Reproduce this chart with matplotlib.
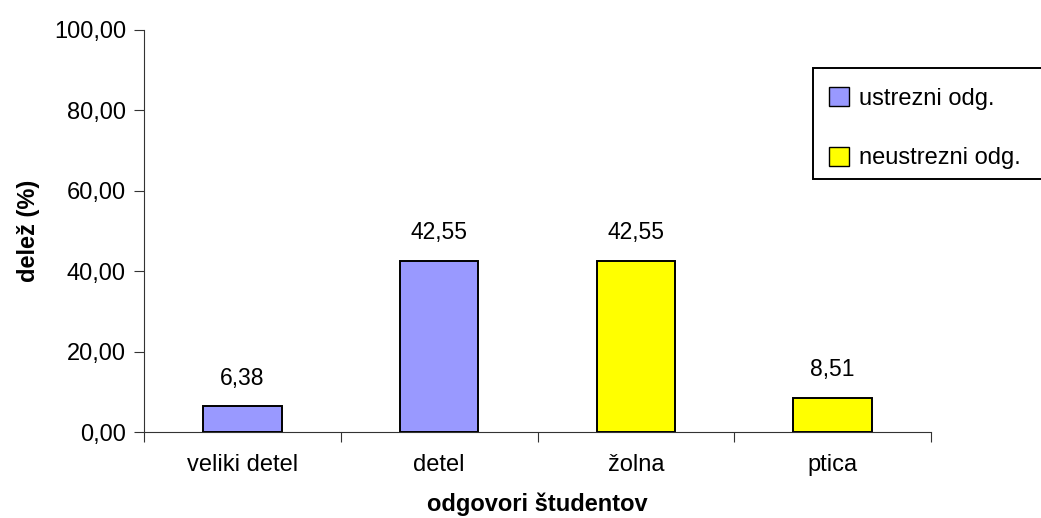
import matplotlib.pyplot as plt
from matplotlib.patches import Patch, Rectangle

# ----------------------------------
# DATA
# ----------------------------------
categories = ["veliki detel", "detel", "žolna", "ptica"]
values = [6.38, 42.55, 42.55, 8.51]
correct = [True, True, False, False]
legend_labels = ["ustrezni odg.", "neustrezni odg."]
y_ticks = [0, 20, 40, 60, 80, 100]

blue = "#9999FF"
yellow = "#FFFF00"

plt.rcParams["font.family"] = ["Liberation Sans", "DejaVu Sans"]

fig = plt.figure(figsize=(10.41, 5.18), dpi=100)
ax = fig.add_axes([144 / 1041, 1 - 432 / 518, (931 - 144) / 1041, (432 - 30) / 518])

x = list(range(len(categories)))
colors = [blue if c else yellow for c in correct]
ax.bar(x, values, width=0.4, color=colors, edgecolor="black", linewidth=1.4, zorder=3)

for xi, v in zip(x, values):
    ax.annotate(f"{v:.2f}".replace(".", ","), xy=(xi, v), xytext=(0, 12),
                textcoords="offset points", ha="center", va="bottom", fontsize=16.5)

ax.set_xlim(-0.5, len(categories) - 0.5)
ax.set_ylim(0, 100)
ax.set_yticks(y_ticks)
ax.set_yticklabels([f"{t:.2f}".replace(".", ",") for t in y_ticks], fontsize=17)

# category labels between boundary ticks
ax.set_xticks([i - 0.5 for i in range(len(categories) + 1)])
ax.set_xticklabels([])
ax.set_xticks(x, minor=True)
ax.set_xticklabels(categories, minor=True, fontsize=17)
ax.tick_params(axis="x", which="minor", length=0, pad=16)
ax.tick_params(axis="x", which="major", length=7, direction="out", color="#333333")
ax.tick_params(axis="y", length=7, direction="out", pad=6, color="#333333")

for s in ["top", "right"]:
    ax.spines[s].set_visible(False)
ax.spines["left"].set_color("#333333")
ax.spines["bottom"].set_color("#333333")

ax.set_ylabel("delež (%)", fontsize=17, fontweight="bold", labelpad=10)
ax.set_xlabel("odgovori študentov", fontsize=17, fontweight="bold", labelpad=12)

# legend frame runs off the right edge like in the original
fig.patches.append(Rectangle((813 / 1041, 1 - 179 / 518), 0.3, 111 / 518,
                             transform=fig.transFigure, facecolor="white",
                             edgecolor="black", linewidth=1.4))
handles = [Patch(facecolor=blue, edgecolor="black"), Patch(facecolor=yellow, edgecolor="black")]
leg = fig.legend(handles, legend_labels, loc="upper left",
                 bbox_to_anchor=(829 / 1041, 1 - 87 / 518), fontsize=17,
                 frameon=False, handlelength=0.85, handleheight=0.85,
                 handletextpad=0.4, labelspacing=1.58, borderpad=0, borderaxespad=0)

fig.savefig("out.png", dpi=100)
